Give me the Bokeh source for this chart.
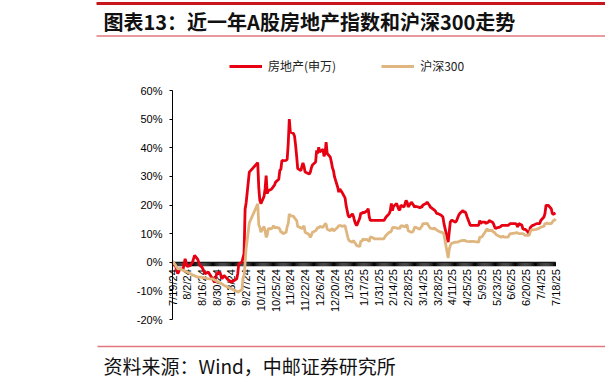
import math
import pandas as pd
from bokeh.plotting import figure
from bokeh.models import (FixedTicker, PrintfTickFormatter, Range1d, ColumnDataSource,
                          Legend, LegendItem)
from bokeh.core.properties import value
from bokeh.embed import file_html
from bokeh.resources import INLINE

title_text = "图表13：近一年A股房地产指数和沪深300走势"
source_text = "资料来源：Wind，中邮证券研究所"
series_names = ["房地产(申万)", "沪深300"]

red_dates = [
    "2024-07-19", "2024-07-22", "2024-07-24", "2024-07-26", "2024-07-29", "2024-07-31", "2024-08-02",
    "2024-08-05", "2024-08-07", "2024-08-09", "2024-08-12", "2024-08-14", "2024-08-16", "2024-08-19",
    "2024-08-22", "2024-08-26", "2024-08-28", "2024-08-30", "2024-09-02", "2024-09-04", "2024-09-06",
    "2024-09-09", "2024-09-11", "2024-09-13", "2024-09-18", "2024-09-19", "2024-09-20", "2024-09-23",
    "2024-09-24", "2024-09-25", "2024-09-26", "2024-09-27", "2024-09-30", "2024-10-08", "2024-10-09",
    "2024-10-10", "2024-10-11", "2024-10-14", "2024-10-15", "2024-10-16", "2024-10-17", "2024-10-18",
    "2024-10-21", "2024-10-22", "2024-10-23", "2024-10-24", "2024-10-25", "2024-10-28", "2024-10-29",
    "2024-10-30", "2024-10-31", "2024-11-01", "2024-11-04", "2024-11-05", "2024-11-06", "2024-11-07",
    "2024-11-08", "2024-11-11", "2024-11-12", "2024-11-13", "2024-11-14", "2024-11-15", "2024-11-18",
    "2024-11-19", "2024-11-20", "2024-11-21", "2024-11-22", "2024-11-25", "2024-11-26", "2024-11-27",
    "2024-11-28", "2024-11-29", "2024-12-02", "2024-12-03", "2024-12-04", "2024-12-05", "2024-12-06",
    "2024-12-09", "2024-12-10", "2024-12-11", "2024-12-12", "2024-12-13", "2024-12-16", "2024-12-17",
    "2024-12-18", "2024-12-19", "2024-12-20", "2024-12-23", "2024-12-24", "2024-12-25", "2024-12-26",
    "2024-12-27", "2024-12-30", "2024-12-31", "2025-01-02", "2025-01-03", "2025-01-06", "2025-01-07",
    "2025-01-08", "2025-01-09", "2025-01-10", "2025-01-13", "2025-01-14", "2025-01-15", "2025-01-16",
    "2025-01-17", "2025-01-20", "2025-01-21", "2025-01-22", "2025-01-23", "2025-01-24", "2025-01-27",
    "2025-02-05", "2025-02-06", "2025-02-07", "2025-02-10", "2025-02-11", "2025-02-12", "2025-02-13",
    "2025-02-14", "2025-02-17", "2025-02-18", "2025-02-19", "2025-02-20", "2025-02-21", "2025-02-24",
    "2025-02-25", "2025-02-26", "2025-02-27", "2025-02-28", "2025-03-03", "2025-03-04", "2025-03-05",
    "2025-03-06", "2025-03-07", "2025-03-10", "2025-03-11", "2025-03-12", "2025-03-13", "2025-03-14",
    "2025-03-17", "2025-03-18", "2025-03-19", "2025-03-20", "2025-03-21", "2025-03-24", "2025-03-25",
    "2025-03-26", "2025-03-27", "2025-03-28", "2025-03-31", "2025-04-01", "2025-04-02", "2025-04-03",
    "2025-04-07", "2025-04-08", "2025-04-09", "2025-04-10", "2025-04-11", "2025-04-14", "2025-04-15",
    "2025-04-16", "2025-04-17", "2025-04-18", "2025-04-21", "2025-04-22", "2025-04-23", "2025-04-24",
    "2025-04-25", "2025-04-28", "2025-04-29", "2025-04-30", "2025-05-06", "2025-05-07", "2025-05-08",
    "2025-05-09", "2025-05-12", "2025-05-13", "2025-05-14", "2025-05-15", "2025-05-16", "2025-05-19",
    "2025-05-20", "2025-05-21", "2025-05-22", "2025-05-23", "2025-05-26", "2025-05-27", "2025-05-28",
    "2025-05-29", "2025-05-30", "2025-06-03", "2025-06-04", "2025-06-05", "2025-06-06", "2025-06-09",
    "2025-06-10", "2025-06-11", "2025-06-12", "2025-06-13", "2025-06-16", "2025-06-17", "2025-06-18",
    "2025-06-19", "2025-06-20", "2025-06-23", "2025-06-24", "2025-06-25", "2025-06-26", "2025-06-27",
    "2025-06-30", "2025-07-01", "2025-07-02", "2025-07-03", "2025-07-04", "2025-07-07", "2025-07-08",
    "2025-07-09", "2025-07-10", "2025-07-11", "2025-07-14", "2025-07-15", "2025-07-16", "2025-07-17",
    "2025-07-18",
]
red_values = [
    0.0, -1.5, -4.0, -2.3, -2.5, 1.2, -1.5,
    -1.1, 0.0, 2.4, 1.0, -1.1, -1.7, -4.0,
    -3.4, -5.8, -7.0, -4.0, -3.4, -5.8, -4.6,
    -5.8, -6.4, -7.0, -5.8, -4.0, -0.5, 0.0,
    1.5, 3.0, 18.5, 20.8, 31.5, 34.8, 26.0,
    21.6, 20.5, 23.0, 25.6, 30.3, 24.0, 25.0,
    25.5, 26.0, 26.5, 27.0, 28.0, 29.0, 32.1,
    32.5, 35.6, 35.5, 35.6, 36.0, 41.4, 50.0,
    45.5, 45.0, 44.0, 40.8, 37.0, 32.7, 32.0,
    33.5, 34.7, 33.5, 31.5, 31.0, 30.8, 31.5,
    33.0, 34.0, 35.0, 39.1, 38.0, 40.2, 38.5,
    39.5, 37.0, 38.0, 42.0, 38.0, 36.7, 35.0,
    33.0, 32.0, 29.8, 26.2, 24.5, 25.6, 25.0,
    24.5, 22.5, 19.8, 16.3, 15.7, 16.9, 16.0,
    14.5, 13.4, 12.8, 15.4, 17.3, 17.0, 17.5,
    17.3, 18.0, 18.7, 15.8, 14.6, 14.6, 14.6,
    14.6, 15.2, 15.8, 17.0, 18.0, 20.5, 18.0,
    19.5, 20.5, 19.5, 18.5, 18.2, 19.9, 19.3,
    20.5, 21.6, 21.0, 19.3, 21.0, 20.5, 20.0,
    19.3, 19.5, 19.3, 19.0, 19.3, 19.3, 20.0,
    20.5, 21.0, 20.5, 20.0, 19.3, 18.5, 18.2,
    17.8, 17.1, 17.0, 16.5, 16.2, 15.8, 13.5,
    7.0, 10.5, 14.0, 14.6, 14.6, 14.0, 14.5,
    15.5, 16.4, 17.0, 18.1, 17.5, 17.7, 17.0,
    15.8, 12.9, 12.9, 12.9, 12.9, 14.6, 13.5,
    14.0, 14.0, 13.5, 14.0, 13.8, 14.6, 14.0,
    13.5, 12.5, 11.7, 12.0, 12.3, 12.5, 12.9,
    12.9, 12.9, 12.9, 13.2, 13.5, 13.5, 13.5,
    13.5, 13.2, 12.3, 13.5, 13.0, 11.7, 11.5,
    11.5, 11.3, 10.0, 12.1, 12.5, 12.9, 12.9,
    13.5, 13.5, 13.5, 13.5, 14.6, 15.8, 17.0,
    19.9, 19.9, 19.9, 18.7, 17.0, 16.8, 17.0,
    17.2,
]

hs300_dates = [
    "2024-07-19", "2024-07-22", "2024-07-24", "2024-07-26", "2024-07-30", "2024-08-02", "2024-08-05",
    "2024-08-08", "2024-08-12", "2024-08-15", "2024-08-19", "2024-08-22", "2024-08-26", "2024-08-28",
    "2024-08-30", "2024-09-03", "2024-09-06", "2024-09-10", "2024-09-13", "2024-09-18", "2024-09-19",
    "2024-09-20", "2024-09-23", "2024-09-24", "2024-09-25", "2024-09-26", "2024-09-27", "2024-09-30",
    "2024-10-08", "2024-10-09", "2024-10-10", "2024-10-11", "2024-10-14", "2024-10-15", "2024-10-16",
    "2024-10-17", "2024-10-18", "2024-10-21", "2024-10-22", "2024-10-23", "2024-10-24", "2024-10-25",
    "2024-10-28", "2024-10-29", "2024-10-30", "2024-10-31", "2024-11-01", "2024-11-04", "2024-11-05",
    "2024-11-06", "2024-11-07", "2024-11-08", "2024-11-11", "2024-11-12", "2024-11-13", "2024-11-14",
    "2024-11-15", "2024-11-18", "2024-11-19", "2024-11-20", "2024-11-21", "2024-11-22", "2024-11-25",
    "2024-11-26", "2024-11-27", "2024-11-28", "2024-11-29", "2024-12-02", "2024-12-03", "2024-12-04",
    "2024-12-05", "2024-12-06", "2024-12-09", "2024-12-10", "2024-12-11", "2024-12-12", "2024-12-13",
    "2024-12-16", "2024-12-17", "2024-12-18", "2024-12-19", "2024-12-20", "2024-12-23", "2024-12-24",
    "2024-12-25", "2024-12-26", "2024-12-27", "2024-12-30", "2024-12-31", "2025-01-02", "2025-01-03",
    "2025-01-06", "2025-01-07", "2025-01-08", "2025-01-09", "2025-01-10", "2025-01-13", "2025-01-14",
    "2025-01-15", "2025-01-16", "2025-01-17", "2025-01-20", "2025-01-21", "2025-01-22", "2025-01-23",
    "2025-01-24", "2025-01-27", "2025-02-05", "2025-02-06", "2025-02-07", "2025-02-10", "2025-02-11",
    "2025-02-12", "2025-02-13", "2025-02-14", "2025-02-17", "2025-02-18", "2025-02-19", "2025-02-20",
    "2025-02-21", "2025-02-24", "2025-02-25", "2025-02-26", "2025-02-27", "2025-02-28", "2025-03-03",
    "2025-03-04", "2025-03-05", "2025-03-06", "2025-03-07", "2025-03-10", "2025-03-11", "2025-03-12",
    "2025-03-13", "2025-03-14", "2025-03-17", "2025-03-18", "2025-03-19", "2025-03-20", "2025-03-21",
    "2025-03-24", "2025-03-25", "2025-03-26", "2025-03-27", "2025-03-28", "2025-03-31", "2025-04-01",
    "2025-04-02", "2025-04-03", "2025-04-07", "2025-04-08", "2025-04-09", "2025-04-10", "2025-04-11",
    "2025-04-14", "2025-04-15", "2025-04-16", "2025-04-17", "2025-04-18", "2025-04-21", "2025-04-22",
    "2025-04-23", "2025-04-24", "2025-04-25", "2025-04-28", "2025-04-29", "2025-04-30", "2025-05-06",
    "2025-05-07", "2025-05-08", "2025-05-09", "2025-05-12", "2025-05-13", "2025-05-14", "2025-05-15",
    "2025-05-16", "2025-05-19", "2025-05-20", "2025-05-21", "2025-05-22", "2025-05-23", "2025-05-26",
    "2025-05-27", "2025-05-28", "2025-05-29", "2025-05-30", "2025-06-03", "2025-06-04", "2025-06-05",
    "2025-06-06", "2025-06-09", "2025-06-10", "2025-06-11", "2025-06-12", "2025-06-13", "2025-06-16",
    "2025-06-17", "2025-06-18", "2025-06-19", "2025-06-20", "2025-06-23", "2025-06-24", "2025-06-25",
    "2025-06-26", "2025-06-27", "2025-06-30", "2025-07-01", "2025-07-02", "2025-07-03", "2025-07-04",
    "2025-07-07", "2025-07-08", "2025-07-09", "2025-07-10", "2025-07-11", "2025-07-14", "2025-07-15",
    "2025-07-16", "2025-07-17", "2025-07-18",
]
hs300_values = [
    0.4, -1.1, -2.3, -2.3, -3.0, -3.4, -4.0,
    -4.6, -5.2, -5.2, -5.5, -5.8, -5.8, -6.2,
    -6.6, -7.3, -8.1, -8.7, -9.3, -10.1, -10.5,
    -10.2, -9.6, -5.8, -4.5, -0.3, 4.9, 13.7,
    20.4, 13.0, 12.2, 10.5, 12.5, 11.0, 8.7,
    9.5, 11.7, 11.7, 12.0, 12.8, 12.0, 12.2,
    12.0, 11.5, 10.5, 10.5, 10.0, 10.5, 12.5,
    13.5, 16.9, 16.3, 16.0, 15.5, 15.0, 14.6,
    12.5, 12.0, 11.7, 12.2, 12.8, 10.5, 9.9,
    9.5, 8.7, 9.5, 10.5, 11.0, 11.5, 12.2,
    12.0, 12.5, 12.2, 12.8, 13.4, 13.4, 11.5,
    11.0, 11.5, 11.7, 11.0, 11.2, 12.2, 12.8,
    12.8, 12.8, 12.5, 12.8, 11.2, 8.2, 7.5,
    7.0, 7.6, 7.0, 6.5, 5.8, 5.5, 7.5,
    7.2, 8.2, 7.9, 8.0, 7.6, 7.2, 8.8,
    8.8, 8.2, 8.2, 9.0, 9.4, 10.5, 10.5,
    10.9, 12.0, 12.2, 12.0, 11.7, 12.0, 11.7,
    12.8, 12.5, 12.3, 13.0, 12.9, 11.0, 10.5,
    10.5, 11.0, 12.3, 12.2, 11.7, 11.5, 12.2,
    12.5, 13.5, 13.5, 13.6, 13.0, 12.4, 11.9,
    11.7, 11.9, 11.6, 11.3, 11.0, 10.5, 10.5,
    10.2, 9.6, 1.5, 4.5, 5.8, 6.5, 6.7,
    7.0, 7.0, 7.0, 7.2, 7.4, 7.6, 7.6,
    7.6, 7.4, 7.3, 7.2, 7.3, 7.3, 7.0,
    8.8, 8.8, 8.8, 10.5, 11.1, 11.7, 11.0,
    11.1, 11.1, 10.5, 10.5, 9.9, 9.5, 9.0,
    8.8, 8.8, 9.2, 8.8, 8.8, 9.5, 10.0,
    10.0, 10.2, 10.2, 10.4, 10.2, 10.0, 10.0,
    10.0, 9.8, 9.4, 9.4, 9.4, 10.6, 11.3,
    11.3, 11.3, 11.5, 11.7, 11.7, 12.0, 12.3,
    12.5, 13.5, 13.5, 13.8, 13.5, 13.5, 14.0,
    14.6, 14.6, 15.2,
]

x_tick_dates = [
    "2024-07-19", "2024-08-02", "2024-08-16", "2024-08-30", "2024-09-13", "2024-09-27",
    "2024-10-11", "2024-10-25", "2024-11-08", "2024-11-22", "2024-12-06", "2024-12-20",
    "2025-01-03", "2025-01-17", "2025-01-31", "2025-02-14", "2025-02-28", "2025-03-14",
    "2025-03-28", "2025-04-11", "2025-04-25", "2025-05-09", "2025-05-23", "2025-06-06",
    "2025-06-20", "2025-07-04", "2025-07-18",
]
x_tick_labels = [
    "7/19/24", "8/2/24", "8/16/24", "8/30/24", "9/13/24", "9/27/24",
    "10/11/24", "10/25/24", "11/8/24", "11/22/24", "12/6/24", "12/20/24",
    "1/3/25", "1/17/25", "1/31/25", "2/14/25", "2/28/25", "3/14/25",
    "3/28/25", "4/11/25", "4/25/25", "5/9/25", "5/23/25", "6/6/25",
    "6/20/25", "7/4/25", "7/18/25",
]
y_ticks = [-20, -10, 0, 10, 20, 30, 40, 50, 60]

RED = "#E60012"
TAN = "#DFB67F"
DARK_RED = "#C8161D"
PINK = "#E3777F"
FONT_LAT = "Liberation Sans"
FONT_CJK = "Noto Sans CJK SC"

# page layout (pixels)
W, H = 605, 386
FRAME_LEFT = 60                   # left panel reserved for the y axis
CHART_L, CHART_R = 172, 555       # where the date range sits
CHART_T, CHART_B = 90, 319        # where the percent range sits

x_start = pd.Timestamp(x_tick_dates[0])
x_end = pd.Timestamp(x_tick_dates[-1])
span_ms = (x_end - x_start).total_seconds() * 1000.0
ms_per_px = span_ms / (CHART_R - CHART_L)
x0_ms = x_start.timestamp() * 1000.0
x_lo = x0_ms - (CHART_L - FRAME_LEFT) * ms_per_px
x_hi = x0_ms + span_ms + (W - CHART_R) * ms_per_px

pct_per_px = (y_ticks[-1] - y_ticks[0]) / (CHART_B - CHART_T)
y_hi = y_ticks[-1] + CHART_T * pct_per_px
y_lo = y_ticks[0] - (H - CHART_B) * pct_per_px

p = figure(width=W, height=H, output_backend="svg", toolbar_location=None, title=None,
           x_axis_location=None,
           min_border_left=FRAME_LEFT, min_border_right=0, min_border_top=0, min_border_bottom=0,
           x_range=Range1d(x_lo, x_hi), y_range=Range1d(y_lo, y_hi))
p.extra_x_ranges = {"px": Range1d(FRAME_LEFT, W)}
p.extra_y_ranges = {"py": Range1d(H, 0)}
p.outline_line_color = None
p.xgrid.grid_line_color = None
p.ygrid.grid_line_color = None

# y axis (real axis pinned at the first date)
ya = p.yaxis[0]
ya.fixed_location = x0_ms
ya.bounds = (y_ticks[0], y_ticks[-1])
ya.ticker = FixedTicker(ticks=y_ticks, minor_ticks=[])
ya.formatter = PrintfTickFormatter(format="%d%%")
ya.axis_line_color = "black"
ya.major_tick_line_color = "black"
ya.major_tick_in = 0
ya.major_tick_out = 3
ya.minor_tick_line_color = None
ya.major_label_standoff = 7
ya.major_label_text_font = FONT_LAT
ya.major_label_text_font_size = "11px"
ya.major_label_text_color = "black"

# x axis at y = 0 with daily minor ticks and rotated biweekly labels
tick_len = 4.0 * pct_per_px
daily = list(pd.date_range(x_tick_dates[0], x_tick_dates[-1], freq="D"))
p.segment(x0=daily, y0=[0] * len(daily), x1=daily, y1=[-tick_len] * len(daily),
          line_color="black", line_width=1)
p.segment(x0=[x_start], y0=[0], x1=[x_end], y1=[0], line_color="black", line_width=1)
p.text(x=pd.to_datetime(x_tick_dates), y=[0] * len(x_tick_dates), text=x_tick_labels,
       angle=math.pi / 2, text_align="right", text_baseline="middle", y_offset=7,
       text_font=value(FONT_LAT), text_font_size="11px", text_color="black")

src_red = ColumnDataSource(dict(x=pd.to_datetime(red_dates), y=red_values))
src_hs = ColumnDataSource(dict(x=pd.to_datetime(hs300_dates), y=hs300_values))
r_red = p.line("x", "y", source=src_red, line_color=RED, line_width=2.8)
r_hs = p.line("x", "y", source=src_hs, line_color=TAN, line_width=2.8)

# legend (location relative to frame bottom-left)
legend = Legend(items=[LegendItem(label=series_names[0], renderers=[r_red]),
                       LegendItem(label=series_names[1], renderers=[r_hs])],
                orientation="horizontal", location=(229 - FRAME_LEFT, H - 74),
                glyph_width=33, glyph_height=14, label_standoff=6, spacing=45,
                padding=0, margin=0, border_line_color=None, background_fill_alpha=0,
                label_text_font=FONT_CJK, label_text_font_size="12px",
                label_text_color="#222222", label_height=14)
p.add_layout(legend)

# header and footer, drawn in page-pixel ranges
p.segment(x0=[96], y0=[3], x1=[W], y1=[3], line_color=DARK_RED, line_width=3,
          x_range_name="px", y_range_name="py")
p.segment(x0=[96, 97], y0=[35.5, 346], x1=[W, W], y1=[35.5, 346], line_color=PINK,
          line_width=1.5, x_range_name="px", y_range_name="py")
p.text(x=[103], y=[21], text=[title_text], text_font=value(FONT_CJK),
       text_font_style="bold", text_font_size="20px", text_baseline="middle",
       text_align="left", text_color="#111111", x_range_name="px", y_range_name="py")
p.text(x=[103], y=[365], text=[source_text], text_font=value(FONT_CJK),
       text_font_size="19px", text_baseline="middle", text_align="left",
       text_color="#111111", x_range_name="px", y_range_name="py")

open("out.html", "w").write(file_html(p, INLINE))
